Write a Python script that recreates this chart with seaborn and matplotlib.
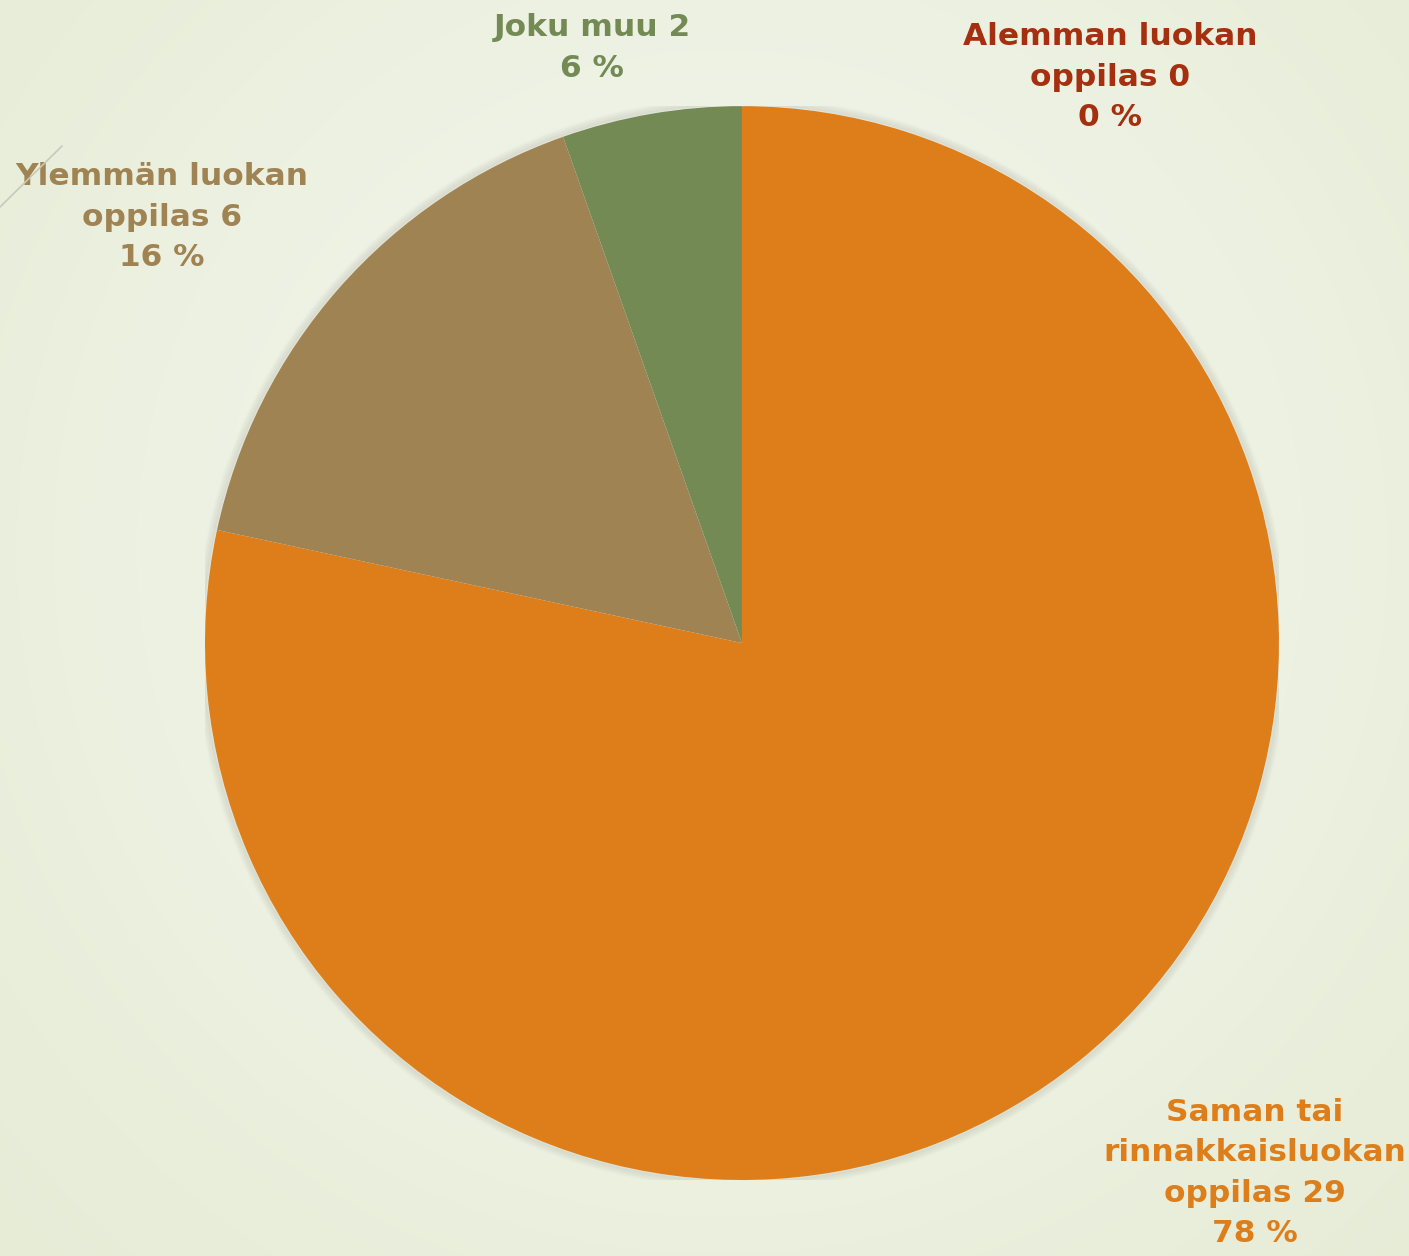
import numpy as np
import pandas as pd
import seaborn as sns
import matplotlib.pyplot as plt
from matplotlib.lines import Line2D
from matplotlib.patches import Circle

sns.set_theme(style="white")
plt.rcParams['font.family'] = ['DejaVu Sans']

categories = ["Alemman luokan\noppilas", "Saman tai\nrinnakkaisluokan\noppilas", "Ylemmän luokan\noppilas", "Joku muu"]
counts = [0, 29, 6, 2]
percent_labels = ["0 %", "78 %", "16 %", "6 %"]
colors = ["#A5300F", "#DD7E1A", "#A08352", "#748A55"]

df = pd.DataFrame({"category": categories, "count": counts, "pct": percent_labels})

fig = plt.figure(figsize=(14.09, 12.56), dpi=100)

# background radial gradient
bg = fig.add_axes([0, 0, 1, 1])
yy, xx = np.mgrid[0:1256, 0:1409]
d = np.sqrt(((xx - 720) / 1000.0) ** 2 + ((yy - 550) / 1000.0) ** 2)
d = np.clip(d, 0, 1)
c_in = np.array([0xF6, 0xF8, 0xF1]) / 255
c_out = np.array([0xE6, 0xEC, 0xD6]) / 255
img = c_in[None, None, :] * (1 - d[..., None]) + c_out[None, None, :] * d[..., None]
bg.imshow(img, extent=[0, 1, 0, 1], aspect="auto")
bg.axis("off")
fig.add_artist(Line2D([0, 62 / 1409], [1 - 207 / 1256, 1 - 146 / 1256],
                      color="#C8C9BC", lw=1.2, transform=fig.transFigure))

ax = fig.add_axes([0.1455, 0.0605, 0.7622, 0.855])

# soft shadow behind the pie
for i in range(10):
    ax.add_patch(Circle((0, 0), 1.0 + 0.0015 * (i + 1), facecolor="none",
                        edgecolor="#7A7A70", lw=2.0, alpha=0.06 * (1 - i / 10), zorder=0))

wedges, _ = ax.pie(df["count"], colors=colors, startangle=90, counterclock=False,
                   radius=1.0, wedgeprops=dict(linewidth=0))
for w in wedges:
    w.set_zorder(2)

label_pos = [(0.685, 1.054), (0.955, -0.987), (-1.080, 0.793), (-0.279, 1.108)]
for (x, y), cat, n, pct, col in zip(label_pos, df["category"], df["count"], df["pct"], colors):
    ax.text(x, y, f"{cat} {n}\n{pct}", ha="center", va="center", color=col,
            fontsize=22.5, fontweight="bold", linespacing=1.5, zorder=5)

# leader line for the zero slice
ax.plot([0, 0.378, 0.402], [1.0, 1.113, 1.113], color="#A6A6A6", lw=1.2, zorder=4)

ax.set_xlim(-1, 1)
ax.set_ylim(-1, 1)
ax.set_aspect("auto")
ax.axis("off")

fig.savefig("out.png", dpi=100)
